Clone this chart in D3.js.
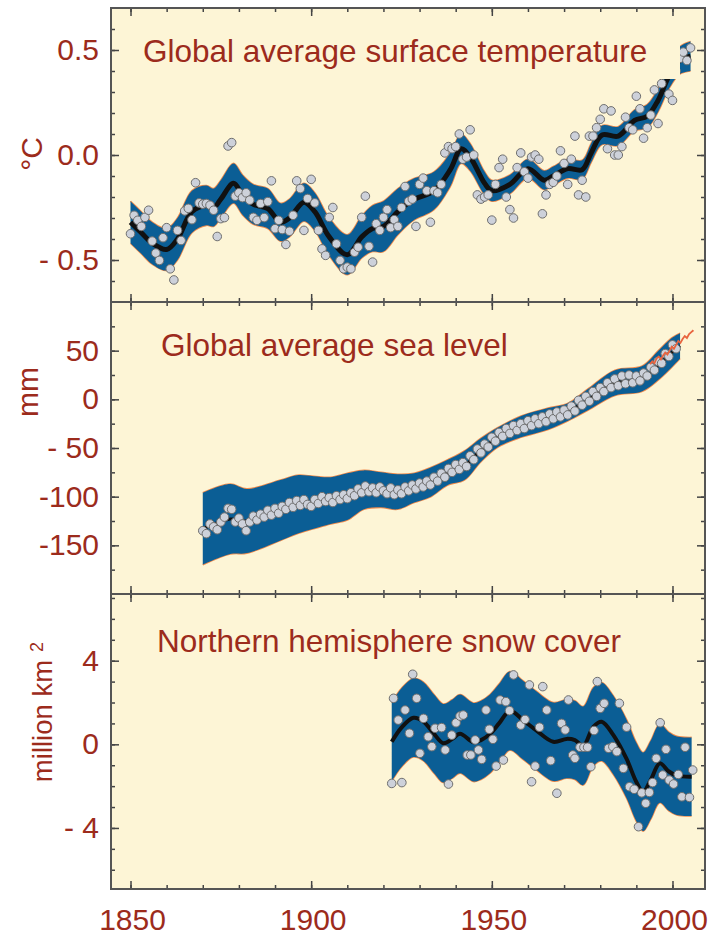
<!DOCTYPE html>
<html>
<head>
<meta charset="utf-8">
<script src="https://cdn.jsdelivr.net/npm/d3@7"></script>
<style>
  body { margin: 0; background: #fff; }
  svg text { font-family: "Liberation Sans", Arial, sans-serif; }
</style>
</head>
<body>
<div id="chart"></div>
<script>
// ---------------- data ----------------
// global average surface temperature (deg C, anomaly)
var tempDotYears = d3.range(1850, 2006);
var tempDots = [
  -0.375,-0.287,-0.311,-0.34,-0.297,-0.263,-0.41,-0.467,-0.502,-0.394,
  -0.346,-0.542,-0.595,-0.359,-0.407,-0.266,-0.254,-0.308,-0.132,-0.228,
  -0.234,-0.231,-0.239,-0.263,-0.388,-0.303,-0.298,0.043,0.059,-0.196,
  -0.18,-0.203,-0.18,-0.215,-0.297,-0.311,-0.231,-0.298,-0.222,-0.123,
  -0.351,-0.311,-0.355,-0.426,-0.363,-0.287,-0.123,-0.16,-0.359,-0.207,
  -0.116,-0.228,-0.359,-0.447,-0.478,-0.297,-0.25,-0.423,-0.502,-0.542,
  -0.534,-0.542,-0.463,-0.439,-0.297,-0.196,-0.435,-0.51,-0.327,-0.359,
  -0.297,-0.26,-0.346,-0.308,-0.34,-0.25,-0.15,-0.22,-0.21,-0.34,
  -0.14,-0.11,-0.17,-0.32,-0.17,-0.18,-0.14,0.01,0.04,0.03,
  0.04,0.10,-0.02,-0.01,0.12,0.00,-0.19,-0.21,-0.20,-0.19,
  -0.31,-0.14,-0.06,-0.02,-0.20,-0.26,-0.30,-0.06,0.01,-0.08,
  -0.11,-0.01,0.00,-0.02,-0.28,-0.19,-0.14,-0.13,-0.10,0.02,
  -0.04,-0.14,-0.02,0.09,-0.19,-0.12,-0.20,0.09,0.09,0.13,
  0.17,0.22,0.03,0.21,0.00,0.00,0.04,0.18,0.13,0.12,
  0.28,0.22,0.08,0.13,0.19,0.31,0.15,0.34,0.55,0.29,
  0.26,0.40,0.46,0.49,0.45,0.51
];
var tempYears = [1850,1853,1856,1860,1863,1867,1871,1873,1875,1878.5,1881,1884,1888,1891.5,1894,1898,1901,1905,1910,1914,1917,1920,1924,1928,1934,1938.5,1941.5,1944,1948,1950,1955,1960,1964.5,1967,1971,1975,1977.5,1980.5,1985,1989.5,1993,1996,1999,2002,2005];
var tempSmooth = [-0.32,-0.37,-0.42,-0.45,-0.40,-0.27,-0.24,-0.25,-0.21,-0.135,-0.19,-0.235,-0.255,-0.32,-0.30,-0.225,-0.27,-0.39,-0.475,-0.39,-0.35,-0.34,-0.27,-0.215,-0.17,-0.07,0.03,-0.01,-0.135,-0.17,-0.14,-0.065,-0.12,-0.10,-0.065,-0.07,0.01,0.095,0.09,0.165,0.185,0.26,0.375,0.45,0.47];
var tempSpread = [0.10,0.10,0.10,0.10,0.10,0.10,0.095,0.09,0.09,0.095,0.095,0.095,0.095,0.09,0.09,0.09,0.09,0.09,0.095,0.10,0.11,0.12,0.11,0.10,0.09,0.08,0.07,0.065,0.055,0.05,0.045,0.045,0.045,0.045,0.045,0.045,0.045,0.045,0.045,0.05,0.055,0.055,0.06,0.065,0.07];

// global average sea level (mm)
var seaDotYears = d3.range(1870, 2002);
var seaDots = [
  -135,-138,-128,-131,-134,-126,-121,-112,-113,-126,
  -122,-128,-135,-126,-120,-124,-118,-121,-114,-119,
  -112,-117,-110,-113,-106,-111,-104,-109,-103,-108,
  -110,-103,-107,-100,-105,-101,-106,-99,-103,-98,
  -102,-96,-99,-92,-96,-89,-95,-91,-96,-90,
  -94,-97,-91,-98,-93,-97,-90,-94,-88,-92,
  -86,-90,-84,-88,-80,-84,-76,-80,-71,-75,
  -67,-72,-65,-69,-58,-62,-51,-55,-46,-49,
  -39,-43,-34,-38,-30,-35,-27,-32,-25,-30,
  -22,-27,-20,-25,-18,-23,-15,-20,-13,-18,
  -11,-16,-7,-12,-1,-6,3,-2,8,3,
  12,8,17,12,21,14,24,16,25,17,
  24,19,27,24,33,30,39,37,47,44,
  56,52
];
var seaYears = [1870,1877.6,1882.2,1891.5,1896.1,1900.7,1905.4,1910,1914.6,1919.3,1923.9,1928.5,1933.1,1937.8,1942.4,1947,1951.7,1958.1,1965.6,1971.1,1976.7,1984.1,1991.5,1996.1,1999.8,2002.1];
var seaSmooth = [-133,-123,-125,-114,-108,-106,-104,-100,-93,-93,-95,-91,-85,-75,-68,-52,-39,-28,-20,-13,0,17,21,35,48,55];
var seaSpread = [37,36,33,31,30,27,24,24,20,18,18,15,15,13,15,12,10,11,11,9,11,13,13,15,15,13];
// satellite altimetry (red)
var satYears = [1993.8,1994.4,1995,1995.6,1996.2,1996.8,1997.4,1998,1998.6,1999.2,1999.8,2000.4,2001,2001.6,2002.2,2002.8,2003.4,2004,2004.6,2005.2,2005.8];
var satVals = [36,39,37,42,44,41,45,48,46,50,54,52,56,60,58,62,65,63,67,69,71];

// northern hemisphere snow cover (million km2)
var snowDotYears = [1922.3,1922.8,1924.1,1925.1,1926.0,1927.2,1928.1,1929.2,1930.1,1931.1,1932.4,1933.4,1934.3,1936.1,1937.1,1938.0,1938.9,1940.1,1941.2,1942.1,1943.2,1944.2,1945.4,1946.3,1947.2,1948.4,1949.3,1950.3,1951.2,1952.3,1953.2,1953.9,1954.9,1956.0,1958.0,1959.2,1960.4,1961.0,1962.0,1963.2,1964.1,1965.2,1966.3,1968.0,1969.3,1970.3,1971.2,1972.4,1973.0,1974.4,1975.5,1976.5,1977.4,1978.3,1979.2,1980.0,1981.1,1982.3,1983.5,1984.6,1985.3,1986.4,1987.3,1988.1,1989.4,1990.6,1991.5,1992.6,1993.6,1994.5,1995.5,1996.6,1997.3,1998.2,1999.1,2000.3,2001.6,2002.6,2003.5,2004.7,2005.6];
var snowDots = [-1.87,2.20,1.16,-1.83,1.64,0.53,3.35,2.20,-0.43,1.24,0.36,-0.11,0.77,0.80,-0.27,-1.90,0.44,1.03,1.35,1.40,-0.51,-0.51,0.21,-0.27,-0.72,1.64,0.72,0.24,-1.04,2.12,-0.75,2.04,1.61,3.32,0.92,1.19,2.84,-1.79,-1.04,0.82,2.76,1.64,-0.78,-2.34,1.00,0.69,2.12,-0.51,-0.67,-0.14,-0.14,-0.14,-1.07,0.66,3.00,1.72,1.96,-0.19,-0.11,-0.35,1.96,-1.15,0.82,-2.03,-2.15,-3.94,-2.32,-2.82,-2.30,-1.83,-0.67,1.03,-1.47,-0.24,-1.71,-1.90,-1.44,-2.51,-0.14,-2.54,-1.23];
var snowYears = [1922.3,1925,1928.3,1931,1934,1936.6,1939,1941.2,1944.9,1947,1949.5,1952,1955,1958.7,1962.4,1967,1970.7,1973,1975.3,1978.1,1980.4,1983.6,1987.3,1990,1991.9,1994,1996.5,1999,2001.2,2005.3];
var snowSmooth = [0.12,0.8,1.27,1.1,0.5,0.05,0.25,0.5,0.1,0.2,0.5,1.0,1.6,1.15,0.65,0.12,0.26,0.2,-0.07,0.84,1.08,0.45,-0.7,-1.8,-2.27,-1.7,-0.91,-1.3,-1.5,-1.55];
var snowHalfWidth = 1.88;

// axis ticks and labels
var xMajor = [1850, 1900, 1950, 2000];
var xMinor = d3.range(1850, 2001, 10);
var xLabels = ["1850", "1900", "1950", "2000"];
var tempTicks = [0.5, 0, -0.5], tempLabels = ["0.5", "0.0", "- 0.5"];
var tempMinor = d3.range(-6, 7).map(function(d) { return d / 10; });
var seaTicks = [50, 0, -50, -100, -150], seaLabels = ["50", "0", "- 50", "-100", "-150"];
var seaMinor = d3.range(-175, 100, 25);
var snowTicks = [4, 0, -4], snowLabels = ["4", "0", "- 4"];
var snowMinor = d3.range(-6, 8);

// ---------------- drawing ----------------
var RED = "#9c2b1c", CREAM = "#fdf5d6", BLUE = "#0b5e95", EDGE = "#f08a4b";
var left = 111, right = 705;

var svg = d3.select("#chart").append("svg")
    .attr("width", 711)
    .attr("height", 935);

var x = d3.scaleLinear().domain([1844.6, 2009]).range([left, right]);
var yTemp = d3.scaleLinear().domain([-0.7, 0.7]).range([302, 8]);
var ySea = d3.scaleLinear().domain([-200, 100]).range([594, 302]);
var ySnow = d3.scaleLinear().domain([-6.92, 7.19]).range([889, 594]);

svg.append("rect")
    .attr("x", left).attr("y", 8)
    .attr("width", right - left).attr("height", 889 - 8)
    .attr("fill", CREAM);

function drawData(y, name, years, smooth, spread, dotYears, dots, lineW) {
    var top = y.range()[1], bottom = y.range()[0];
    svg.append("clipPath").attr("id", "clip-" + name)
        .append("rect")
        .attr("x", left).attr("y", top)
        .attr("width", right - left).attr("height", bottom - top);

    var g = svg.append("g").attr("clip-path", "url(#clip-" + name + ")");

    var knots = years.map(function(yr, i) {
        return { yr: yr, v: smooth[i], h: Array.isArray(spread) ? spread[i] : spread };
    });

    var area = d3.area()
        .x(function(d) { return x(d.yr); })
        .y0(function(d) { return y(d.v - d.h); })
        .y1(function(d) { return y(d.v + d.h); })
        .curve(d3.curveCatmullRom);

    // orange rims on the band, mostly covered by the fill
    [1, -1].forEach(function(s) {
        g.append("path").datum(knots)
            .attr("d", d3.line()
                .x(function(d) { return x(d.yr); })
                .y(function(d) { return y(d.v + s * d.h); })
                .curve(d3.curveCatmullRom))
            .attr("fill", "none")
            .attr("stroke", EDGE)
            .attr("stroke-width", 1.6);
    });

    g.append("path").datum(knots)
        .attr("d", area)
        .attr("fill", BLUE);

    g.append("path").datum(knots)
        .attr("d", d3.line()
            .x(function(d) { return x(d.yr); })
            .y(function(d) { return y(d.v); })
            .curve(d3.curveCatmullRom))
        .attr("fill", "none")
        .attr("stroke", "#111")
        .attr("stroke-width", lineW);

    g.selectAll("circle.dot").data(dots)
        .enter().append("circle")
        .attr("class", "dot")
        .attr("cx", function(d, i) { return x(dotYears[i]); })
        .attr("cy", function(d) { return y(d); })
        .attr("r", 4.3)
        .attr("fill", "#cdd1da")
        .attr("stroke", "#6e6e6e")
        .attr("stroke-width", 1);

    return g;
}

drawData(yTemp, "temp", tempYears, tempSmooth, tempSpread, tempDotYears, tempDots, 5);
var seaG = drawData(ySea, "sea", seaYears, seaSmooth, seaSpread, seaDotYears, seaDots, 3);
drawData(ySnow, "snow", snowYears, snowSmooth, snowHalfWidth, snowDotYears, snowDots, 4);

// satellite sea level line
seaG.append("path")
    .datum(satYears.map(function(yr, i) { return [yr, satVals[i]]; }))
    .attr("d", d3.line()
        .x(function(d) { return x(d[0]); })
        .y(function(d) { return ySea(d[1]); }))
    .attr("fill", "none")
    .attr("stroke", "#e8643f")
    .attr("stroke-width", 1.8);

// the title box in the top panel hides part of the band
svg.append("rect")
    .attr("x", 125).attr("y", 9)
    .attr("width", 680 - 125).attr("height", 79 - 9)
    .attr("fill", CREAM);

// titles
var titles = [
    { text: "Global average surface temperature", x: 143, y: 61.5 },
    { text: "Global average sea level", x: 161, y: 355.5 },
    { text: "Northern hemisphere snow cover", x: 157, y: 651.5 }
];
svg.selectAll("text.title").data(titles)
    .enter().append("text")
    .attr("class", "title")
    .attr("x", function(d) { return d.x; })
    .attr("y", function(d) { return d.y; })
    .attr("fill", RED)
    .style("font-size", "31.5px")
    .text(function(d) { return d.text; });

// ticks and frame
function styleAxis(sel) {
    sel.select(".domain").remove();
    sel.selectAll(".tick line").attr("stroke", "#444").attr("stroke-width", 1.5);
    sel.selectAll(".tick text").attr("fill", RED).style("font-size", "30px")
        .style("font-family", "'Liberation Sans', Arial, sans-serif");
}

function axesFor(y, major, labels, minor) {
    var top = y.range()[1], bottom = y.range()[0];
    svg.append("g").attr("transform", "translate(" + left + ",0)")
        .call(d3.axisLeft(y).tickValues(minor).tickSize(-4).tickFormat(""))
        .call(styleAxis);
    svg.append("g").attr("transform", "translate(" + left + ",0)")
        .call(d3.axisLeft(y).tickValues(major).tickSize(-8).tickPadding(12)
            .tickFormat(function(d, i) { return labels[i]; }))
        .call(styleAxis);
    svg.append("g").attr("transform", "translate(" + right + ",0)")
        .call(d3.axisRight(y).tickValues(minor).tickSize(-4).tickFormat(""))
        .call(styleAxis);
    svg.append("g").attr("transform", "translate(" + right + ",0)")
        .call(d3.axisRight(y).tickValues(major).tickSize(-8).tickFormat(""))
        .call(styleAxis);
    [[top, d3.axisBottom], [bottom, d3.axisTop]].forEach(function(p) {
        svg.append("g").attr("transform", "translate(0," + p[0] + ")")
            .call(p[1](x).tickValues(xMinor).tickSize(4).tickFormat(""))
            .call(styleAxis);
        svg.append("g").attr("transform", "translate(0," + p[0] + ")")
            .call(p[1](x).tickValues(xMajor).tickSize(8).tickFormat(""))
            .call(styleAxis);
    });
    svg.append("rect")
        .attr("x", left).attr("y", top)
        .attr("width", right - left).attr("height", bottom - top)
        .attr("fill", "none")
        .attr("stroke", "#555")
        .attr("stroke-width", 2);
}

axesFor(yTemp, tempTicks, tempLabels, tempMinor);
axesFor(ySea, seaTicks, seaLabels, seaMinor);
axesFor(ySnow, snowTicks, snowLabels, snowMinor);

// x labels
svg.selectAll("text.xlab").data(xMajor)
    .enter().append("text")
    .attr("class", "xlab")
    .attr("x", function(d) { return x(d) + 2; })
    .attr("y", 930)
    .attr("text-anchor", "middle")
    .attr("fill", RED)
    .style("font-size", "30px")
    .text(function(d, i) { return xLabels[i]; });

// y titles
svg.append("text")
    .attr("transform", "translate(41.5,154) rotate(-90)")
    .attr("text-anchor", "middle")
    .attr("fill", RED)
    .style("font-size", "30px")
    .text("°C");

svg.append("text")
    .attr("transform", "translate(37.5,392) rotate(-90)")
    .attr("text-anchor", "middle")
    .attr("fill", RED)
    .style("font-size", "30px")
    .text("mm");

var snowTitle = svg.append("text")
    .attr("transform", "translate(51.5,712) rotate(-90)")
    .attr("text-anchor", "middle")
    .attr("fill", RED)
    .style("font-size", "27.5px");
snowTitle.append("tspan").text("million km");
snowTitle.append("tspan").attr("dx", 8).attr("dy", -9).style("font-size", "18px").text("2");
</script>
</body>
</html>
